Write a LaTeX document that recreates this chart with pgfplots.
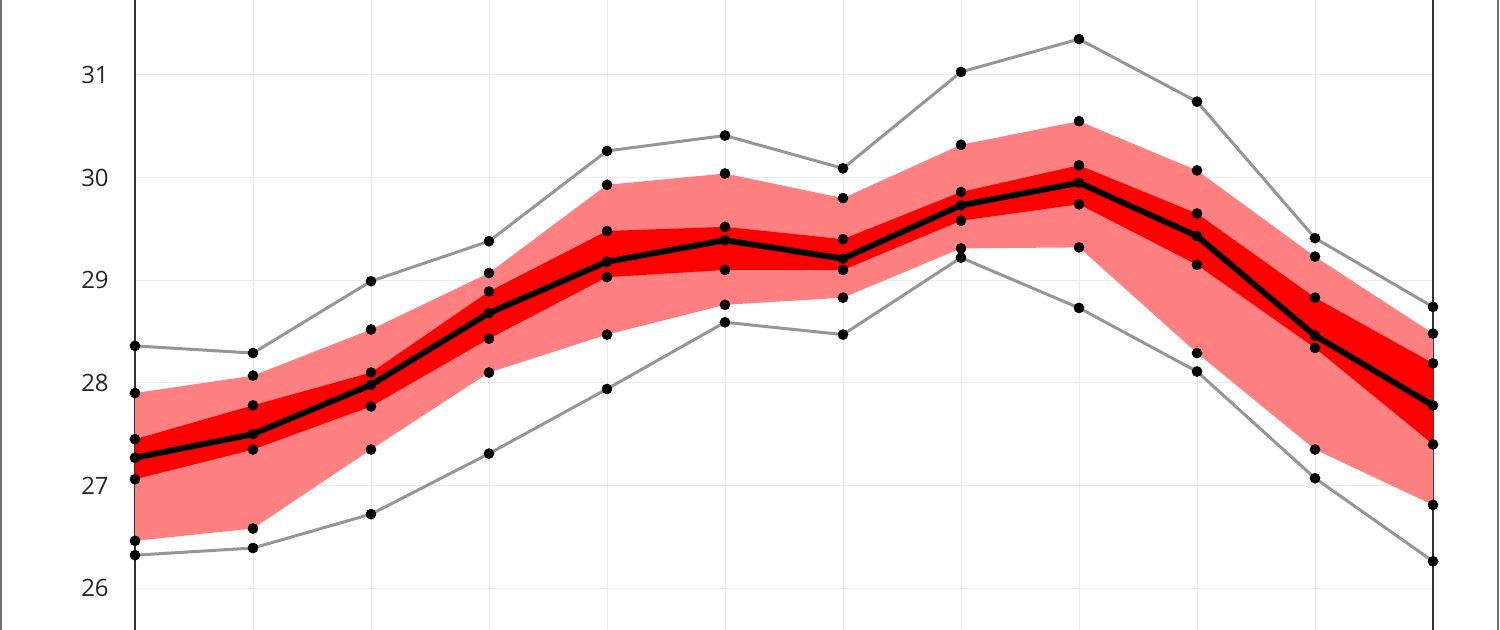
\documentclass[border=0pt]{standalone}
\usepackage{fontspec}
\setmainfont{Open Sans}
\usepackage{pgfplots}
\pgfplotsset{compat=1.18}
\usepgfplotslibrary{fillbetween}
\definecolor{lightband}{RGB}{255,128,128}
\definecolor{darkband}{RGB}{255,0,0}
\definecolor{greyline}{RGB}{150,150,150}
\definecolor{gridc}{RGB}{235,235,235}
\tikzset{dotm/.style={mark=*, mark options={solid, fill=black, draw=black, line width=0.3bp}}}
\begin{document}
\begin{tikzpicture}
\begin{axis}[
  scale only axis,
  width=649bp, height=315bp,
  xmin=0, xmax=11,
  ymin=25.591, ymax=31.731,
  separate axis lines,
  x axis line style={draw=none},
  y axis line style={black!80, line width=0.7bp},
  ytick={26,27,28,29,30,31},
  ytick pos=left,
  xtick={0,...,11},
  xticklabels={},
  major tick length=0pt,
  grid=major,
  major grid style={gridc, line width=0.5bp},
  /pgf/number format/assume math mode=true,
  yticklabel style={font=\fontsize{12}{14}\selectfont, text=black!85, anchor=east, inner sep=0pt, xshift=-13bp},
  clip=false,
  mark size=2.5bp,
]
% max
\addplot[greyline, line width=1.5bp, dotm] coordinates {
(0,28.36) (1,28.29) (2,28.99) (3,29.38) (4,30.26) (5,30.41) (6,30.09) (7,31.03) (8,31.35) (9,30.74) (10,29.41) (11,28.74)};
\addplot[name path=ul, draw=none] coordinates {
(0,27.90) (1,28.07) (2,28.52) (3,29.07) (4,29.93) (5,30.04) (6,29.80) (7,30.32) (8,30.55) (9,30.07) (10,29.23) (11,28.48)};
\addplot[name path=ud, draw=none] coordinates {
(0,27.45) (1,27.78) (2,28.10) (3,28.89) (4,29.48) (5,29.52) (6,29.40) (7,29.86) (8,30.12) (9,29.65) (10,28.83) (11,28.19)};
\addplot[name path=ld, draw=none] coordinates {
(0,27.06) (1,27.35) (2,27.77) (3,28.43) (4,29.03) (5,29.10) (6,29.10) (7,29.58) (8,29.74) (9,29.15) (10,28.34) (11,27.40)};
\addplot[name path=ll, draw=none] coordinates {
(0,26.46) (1,26.58) (2,27.35) (3,28.10) (4,28.47) (5,28.76) (6,28.83) (7,29.31) (8,29.32) (9,28.29) (10,27.35) (11,26.81)};
\addplot[lightband, draw=none] fill between[of=ul and ll];
\addplot[darkband, draw=none] fill between[of=ud and ld];
% min
\addplot[greyline, line width=1.5bp, dotm] coordinates {
(0,26.32) (1,26.39) (2,26.72) (3,27.31) (4,27.94) (5,28.59) (6,28.47) (7,29.22) (8,28.73) (9,28.11) (10,27.07) (11,26.26)};
% band edge markers
\addplot[only marks, dotm] coordinates {
(0,27.90) (1,28.07) (2,28.52) (3,29.07) (4,29.93) (5,30.04) (6,29.80) (7,30.32) (8,30.55) (9,30.07) (10,29.23) (11,28.48)};
\addplot[only marks, dotm] coordinates {
(0,27.45) (1,27.78) (2,28.10) (3,28.89) (4,29.48) (5,29.52) (6,29.40) (7,29.86) (8,30.12) (9,29.65) (10,28.83) (11,28.19)};
\addplot[only marks, dotm] coordinates {
(0,27.06) (1,27.35) (2,27.77) (3,28.43) (4,29.03) (5,29.10) (6,29.10) (7,29.58) (8,29.74) (9,29.15) (10,28.34) (11,27.40)};
\addplot[only marks, dotm] coordinates {
(0,26.46) (1,26.58) (2,27.35) (3,28.10) (4,28.47) (5,28.76) (6,28.83) (7,29.31) (8,29.32) (9,28.29) (10,27.35) (11,26.81)};
% median
\addplot[black, line width=3bp, dotm] coordinates {
(0,27.27) (1,27.50) (2,27.98) (3,28.68) (4,29.18) (5,29.39) (6,29.21) (7,29.73) (8,29.95) (9,29.43) (10,28.46) (11,27.78)};
\end{axis}
\draw[black!55, line width=1bp] (-67bp,0) -- (-67bp,315bp);
\draw[black!55, line width=1bp] (681.5bp,0) -- (681.5bp,315bp);
\pgfresetboundingbox
\path[use as bounding box] (-67.5bp,0) rectangle (682.5bp,315bp);
\end{tikzpicture}
\end{document}
